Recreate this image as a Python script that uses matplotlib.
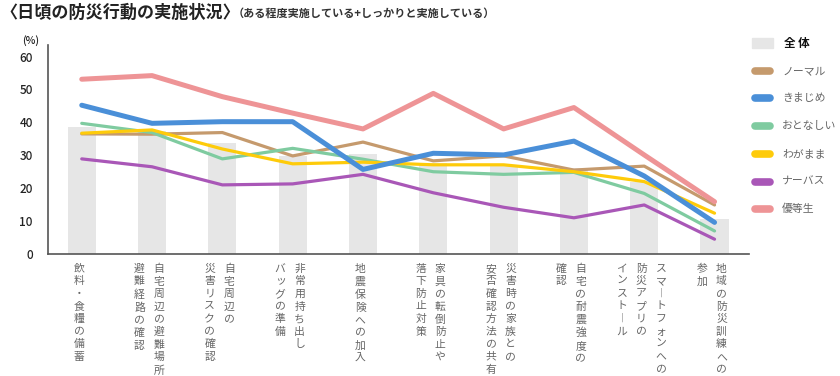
import numpy as np
import matplotlib.pyplot as plt
from matplotlib.lines import Line2D
from matplotlib.patches import Rectangle

plt.rcParams['font.family'] = ['Noto Sans CJK JP', 'DejaVu Sans']

# categories, each as vertical columns (right column first)
categories = [
    ["飲料・食糧の備蓄"],
    ["自宅周辺の避難場所、", "避難経路の確認"],
    ["自宅周辺の", "災害リスクの確認"],
    ["非常用持ち出し", "バッグの準備"],
    ["地震保険への加入"],
    ["家具の転倒防止や", "落下防止対策"],
    ["災害時の家族との", "安否確認方法の共有"],
    ["自宅の耐震強度の", "確認"],
    ["スマートフォンへの", "防災アプリの", "インストール"],
    ["地域の防災訓練への", "参加"],
]

overall = [38.7, 37.5, 33.8, 29.8, 30.3, 27.5, 27.0, 26.0, 22.0, 10.6]
normal = [36.5, 36.4, 36.9, 29.8, 34.0, 28.3, 29.8, 25.5, 26.7, 14.9]
kimajime = [45.2, 39.7, 40.2, 40.2, 25.7, 30.6, 30.1, 34.3, 23.7, 9.6]
otonashii = [39.7, 36.9, 28.9, 32.1, 28.8, 25.0, 24.2, 24.8, 18.4, 7.0]
wagamama = [36.7, 37.7, 31.9, 27.4, 27.9, 27.1, 27.1, 25.0, 22.0, 12.4]
nervous = [28.9, 26.5, 21.0, 21.3, 24.2, 18.6, 14.2, 11.0, 14.9, 4.5]
yutosei = [53.1, 54.2, 47.8, 42.8, 38.0, 48.8, 38.0, 44.5, 30.1, 15.9]

series = [
    ("ノーマル", normal, "#c59a6d", 2.3),
    ("おとなしい", otonashii, "#7fcba0", 2.3),
    ("わがまま", wagamama, "#fecb0a", 2.3),
    ("ナーバス", nervous, "#a957b7", 2.3),
    ("きまじめ", kimajime, "#4a8fd8", 3.6),
    ("優等生", yutosei, "#ee9496", 3.6),
]
legend_order = ["ノーマル", "きまじめ", "おとなしい", "わがまま", "ナーバス", "優等生"]

W, H = 840, 376
fig = plt.figure(figsize=(W / 100, H / 100), dpi=100)
ax = fig.add_axes([48 / W, 1 - 254 / H, 701 / W, 209 / H])

x = np.arange(len(categories))
ax.bar(x, overall, width=0.4, color="#e6e6e6", zorder=1)
for name, vals, color, lw in series:
    ax.plot(x, vals, color=color, lw=lw, solid_joinstyle="round",
            solid_capstyle="round", zorder=3)

ax.set_xlim(-0.48, 9.49)
ax.set_ylim(0, 63.5)
ax.set_yticks(range(0, 61, 10))
ax.set_xticks([])
ax.tick_params(axis="y", length=0, pad=11, labelsize=8.5, labelcolor="#222222")
for lab in ax.get_yticklabels():
    lab.set_fontweight("medium")
for s in ["top", "right"]:
    ax.spines[s].set_visible(False)
for s in ["left", "bottom"]:
    ax.spines[s].set_color("#555555")
    ax.spines[s].set_linewidth(1.2)

# vertical x labels
col_gap = 19.5 * 0.72
for i, cols in enumerate(categories):
    n = len(cols)
    for k, col in enumerate(cols):
        txt = "\n".join(col.replace("ー", "︱"))
        dx = ((n - 1) / 2 - k) * col_gap - 2
        ax.annotate(txt, xy=(i, 0), xycoords=("data", "axes fraction"),
                    xytext=(dx, -7), textcoords="offset points",
                    ha="center", va="top", fontsize=7.8, color="#666666",
                    linespacing=1.32, annotation_clip=False)

# titles
fig.text(0, 1 - 13 / H, "〈日頃の防災行動の実施状況〉", fontsize=12.3,
         fontweight="bold", color="#222222", va="center", ha="left")
fig.text(233 / W, 1 - 13 / H, "（ある程度実施している+しっかりと実施している）",
         fontsize=8.0, fontweight="bold", color="#333333", va="center", ha="left")
fig.text(31 / W, 1 - 41 / H, "(%)", fontsize=7.5, fontweight="medium",
         color="#222222", va="center", ha="center")

# legend
ly = 43
fig.add_artist(Rectangle((752 / W, 1 - (ly + 5) / H), 21 / W, 10 / H,
                         transform=fig.transFigure, color="#e6e6e6"))
fig.text(784 / W, 1 - ly / H, "全 体", fontsize=8.3, fontweight="bold",
         color="#111111", va="center", ha="left")
colors = {name: color for name, _, color, _ in series}
for j, name in enumerate(legend_order):
    yy = 1 - (ly + 27.7 * (j + 1)) / H
    fig.add_artist(Line2D([755 / W, 770 / W], [yy, yy], transform=fig.transFigure,
                          color=colors[name], lw=5.5, solid_capstyle="round"))
    fig.text(782 / W, yy, name, fontsize=7.8, color="#666666",
             va="center", ha="left")

fig.savefig("out.png", dpi=100)
